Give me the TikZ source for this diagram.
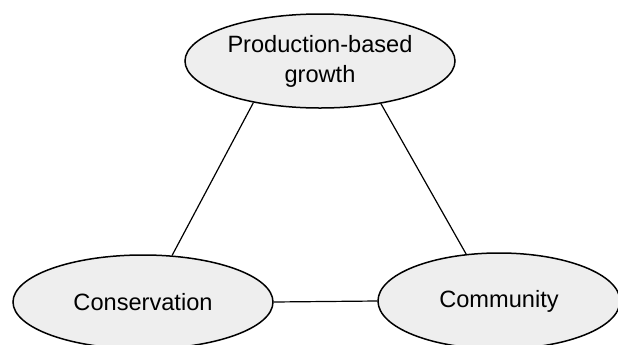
\documentclass[tikz,border=0pt]{standalone}
\usepackage{fontspec}
\setmainfont{Liberation Sans}
\usepackage{tikz}
\usetikzlibrary{shapes.geometric}
\definecolor{ellgray}{RGB}{238,238,238}

\begin{document}
\begin{tikzpicture}[x=0.5pt, y=-0.5pt, line width=0.6pt]
	\tikzstyle{topic} = [ellipse, draw=black, line width=0.75pt, fill=ellgray, inner sep=0pt, font=\fontsize{11.8}{15}\selectfont, align=center]
	\useasboundingbox (0,0) rectangle (618,344);
	\node[topic, minimum width=135pt, minimum height=47pt] (prod) at (320.00, 61.00) {Production-based\\growth};
	\node[topic, minimum width=130pt, minimum height=47pt] (cons) at (143.00, 302.00) {Conservation};
	\node[topic, minimum width=121pt, minimum height=48pt] (comm) at (499.00, 301.00) {Community};
	\draw (prod.212)--(cons.58);
	\draw (prod.325)--(comm.125);
	\draw (cons.east)--(comm.west);
\end{tikzpicture}
\end{document}
